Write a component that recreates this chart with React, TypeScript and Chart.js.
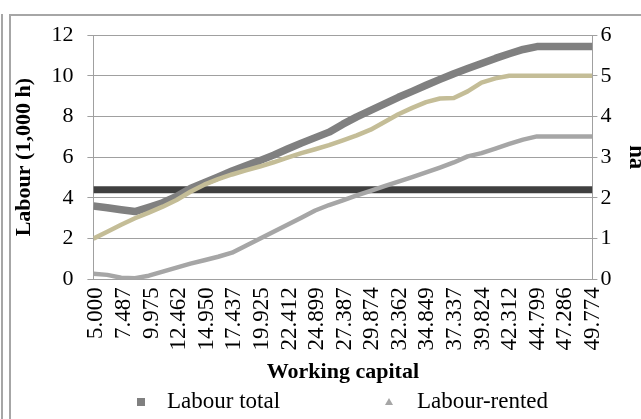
import React, { useEffect, useRef } from "react";
import { Chart, registerables } from "chart.js";

Chart.register(...registerables);

// Tick labels of the working-capital axis (value axis positions are parsed from them)
const xTickLabels = [
  "5.000", "7.487", "9.975", "12.462", "14.950", "17.437", "19.925", "22.412", "24.899",
  "27.387", "29.874", "32.362", "34.849", "37.337", "39.824", "42.312", "44.799", "47.286", "49.774",
];

// Working capital at which the series were read
const capital = [
  5, 6.25, 7.5, 8.75, 10, 11.25, 12.5, 13.75, 15, 16.25, 17.5, 18.75, 20, 21.25, 22.5, 23.75,
  25, 26.25, 27.5, 28.75, 30, 31.25, 32.5, 33.75, 35, 36.25, 37.5, 38.75, 40, 41.25, 42.5,
  43.75, 45, 46.25, 47.5, 48.75, 50,
];

// Labour total (1,000 h)
const labourTotal = [
  3.6, 3.52, 3.42, 3.33, 3.54, 3.76, 4.07, 4.46, 4.75, 5.03, 5.32, 5.58, 5.83, 6.1, 6.4, 6.69,
  6.96, 7.23, 7.62, 7.98, 8.3, 8.62, 8.94, 9.23, 9.53, 9.82, 10.1, 10.35, 10.6, 10.85, 11.08,
  11.29, 11.43, 11.43, 11.43, 11.43, 11.43,
];

// Labour rented (1,000 h)
const labourRented = [
  0.28, 0.22, 0.08, 0.06, 0.18, 0.38, 0.58, 0.77, 0.94, 1.11, 1.31, 1.65, 1.99, 2.34, 2.68,
  3.03, 3.38, 3.65, 3.88, 4.12, 4.35, 4.58, 4.8, 5.02, 5.25, 5.49, 5.74, 6.04, 6.2, 6.42, 6.65,
  6.86, 7.02, 7.02, 7.02, 7.02, 7.02,
];

// Land rented (ha, right axis)
const landRented = [
  1.0, 1.17, 1.34, 1.5, 1.64, 1.785, 1.95, 2.15, 2.325, 2.46, 2.575, 2.675, 2.77, 2.875, 2.99,
  3.1, 3.195, 3.295, 3.415, 3.535, 3.675, 3.865, 4.055, 4.21, 4.35, 4.44, 4.455, 4.615, 4.83,
  4.935, 5.0, 5.0, 5.0, 5.0, 5.0, 5.0, 5.0,
];

// Family labour (1,000 h), constant
const familyCapital = [5, 50];
const labourFamily = [4.4, 4.4];

const legendNames = ["Labour total", "Labour-rented"];

const FONT = '"Liberation Serif", "Times New Roman", serif';
const GRID = "#a0a0a0";

const pairs = (xs: number[], ys: number[]) => xs.map((x, i) => ({ x, y: ys[i] }));

const legendPlugin = {
  id: "bottomLegend",
  afterDraw(chart: any) {
    const ctx = chart.ctx as CanvasRenderingContext2D;
    const y = 402;
    ctx.save();
    ctx.fillStyle = "#808080";
    ctx.fillRect(137, y - 4, 8, 8);
    ctx.fillStyle = "#a6a6a6";
    ctx.beginPath();
    ctx.moveTo(389, y - 4);
    ctx.lineTo(385, y + 3);
    ctx.lineTo(393, y + 3);
    ctx.closePath();
    ctx.fill();
    ctx.fillStyle = "#000";
    ctx.font = `23px ${FONT}`;
    ctx.textBaseline = "middle";
    ctx.textAlign = "left";
    ctx.fillText(legendNames[0], 167, y);
    ctx.fillText(legendNames[1], 417, y);
    ctx.restore();
  },
};

export default function App() {
  const ref = useRef<HTMLCanvasElement | null>(null);

  useEffect(() => {
    if (!ref.current) return;
    const tickValues = xTickLabels.map((s) => parseFloat(s));
    const chart = new Chart(ref.current, {
      type: "line",
      data: {
        datasets: [
          {
            label: legendNames[0],
            data: pairs(capital, labourTotal),
            borderColor: "#808080",
            borderWidth: 7.5,
            pointRadius: 0,
            yAxisID: "y",
            order: 1,
          },
          {
            label: legendNames[1],
            data: pairs(capital, labourRented),
            borderColor: "#a6a6a6",
            borderWidth: 4.5,
            pointRadius: 0,
            yAxisID: "y",
            order: 2,
          },
          {
            label: "Labour-family",
            data: pairs(familyCapital, labourFamily),
            borderColor: "#404040",
            borderWidth: 7,
            pointRadius: 0,
            yAxisID: "y",
            order: 3,
          },
          {
            label: "Land rented",
            data: pairs(capital, landRented),
            borderColor: "#c4bd97",
            borderWidth: 4.5,
            pointRadius: 0,
            yAxisID: "y2",
            order: 0,
          },
        ],
      },
      options: {
        responsive: false,
        animation: false,
        layout: { padding: { left: 11, right: 0, top: 35, bottom: 33 } },
        plugins: { legend: { display: false }, tooltip: { enabled: false } },
        elements: { line: { tension: 0, borderJoinStyle: "round", borderCapStyle: "butt" } },
        scales: {
          x: {
            type: "linear",
            min: 5,
            max: 50,
            afterBuildTicks: (scale: any) => {
              scale.ticks = tickValues.map((v) => ({ value: v }));
            },
            ticks: {
              autoSkip: false,
              minRotation: 90,
              maxRotation: 90,
              padding: 8,
              labelOffset: 3,
              color: "#000",
              font: { family: FONT, size: 23 },
              callback: (_v: any, i: number) => xTickLabels[i],
            },
            grid: { drawOnChartArea: false, drawTicks: false },
            border: { display: true, color: GRID, width: 1 },
            title: {
              display: true,
              text: "Working capital",
              color: "#000",
              font: { family: FONT, size: 22, weight: "bold" },
              padding: { top: 1, bottom: 0 },
            },
          },
          y: {
            position: "left",
            min: 0,
            max: 12,
            ticks: { stepSize: 2, padding: 14, color: "#000", font: { family: FONT, size: 22 } },
            grid: { color: GRID, lineWidth: 1, tickLength: 6 },
            border: { display: true, color: GRID, width: 1 },
            title: {
              display: true,
              text: "Labour (1,000 h)",
              color: "#000",
              font: { family: FONT, size: 22, weight: "bold" },
              padding: { top: 0, bottom: 0 },
            },
          },
          y2: {
            position: "right",
            min: 0,
            max: 6,
            ticks: { stepSize: 1, padding: 3, color: "#000", font: { family: FONT, size: 22 } },
            grid: { drawOnChartArea: false, color: GRID, tickLength: 5 },
            border: { display: true, color: GRID, width: 1 },
            title: {
              display: true,
              text: "ha",
              color: "#000",
              font: { family: FONT, size: 23, weight: "bold" },
              padding: { top: 0, bottom: 8 },
            },
          },
        },
      },
      plugins: [legendPlugin],
    });
    return () => chart.destroy();
  }, []);

  return (
    <div
      style={{
        position: "fixed",
        left: 0,
        top: 0,
        width: 641,
        height: 419,
        overflow: "hidden",
        background: "#fff",
      }}
    >
      <canvas
        ref={ref}
        width={650}
        height={419}
        style={{ position: "absolute", left: 0, top: 0, width: 650, height: 419 }}
      />
      <div style={{ position: "absolute", left: 1, top: 14, width: 2, height: 405, background: "#a6a6a6" }} />
      <div style={{ position: "absolute", left: 9, top: 14, width: 2, height: 405, background: "#a6a6a6" }} />
      <div style={{ position: "absolute", left: 9, top: 14, width: 632, height: 2, background: "#a6a6a6" }} />
    </div>
  );
}
